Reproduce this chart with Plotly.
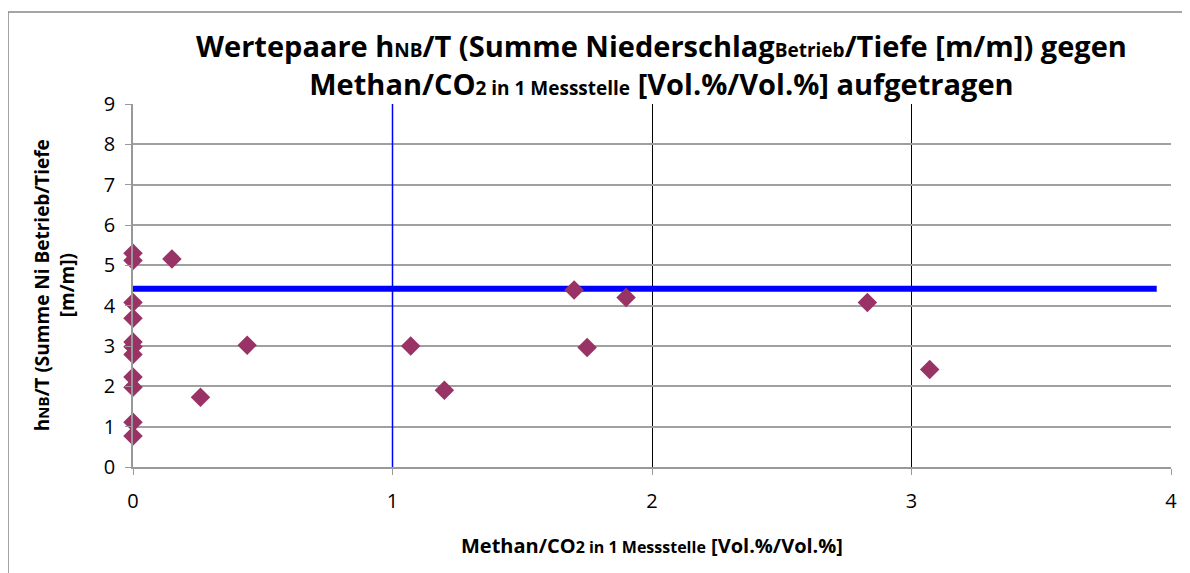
import plotly.graph_objects as go

# Messpunkte: Methan/CO2 (x) gegen hNB/T (y)
methan_co2 = [0, 0, 0, 0, 0, 0, 0, 0, 0, 0, 0,
              0.15, 0.26, 0.44, 1.07, 1.20, 1.70, 1.75, 1.90, 2.83, 3.07]
hnb_t = [5.30, 5.12, 4.08, 3.69, 3.10, 2.98, 2.79, 2.23, 1.98, 1.11, 0.77,
         5.16, 1.73, 3.02, 3.00, 1.90, 4.39, 2.96, 4.20, 4.08, 2.42]

# Grenzlinien
grenz_x_vertikal = [1, 1]
grenz_y_vertikal = [0, 9]
grenz_x_horizontal = [0, 3.945]
grenz_y_horizontal = [4.42, 4.42]

x_ticks = [0, 1, 2, 3, 4]
y_ticks = [0, 1, 2, 3, 4, 5, 6, 7, 8, 9]

FONT = "Open Sans, Noto Sans, sans-serif"

fig = go.Figure()
fig.add_trace(go.Scatter(x=grenz_x_vertikal, y=grenz_y_vertikal, mode="lines",
                         line=dict(color="#0000FF", width=1.5), showlegend=False))
fig.add_trace(go.Scatter(x=grenz_x_horizontal, y=grenz_y_horizontal, mode="lines",
                         line=dict(color="#0000FF", width=6), showlegend=False))
fig.add_trace(go.Scatter(x=methan_co2, y=hnb_t, mode="markers", cliponaxis=False,
                         marker=dict(symbol="diamond", size=15, color="#993366"),
                         showlegend=False))

fig.update_layout(
    width=1182, height=565,
    margin=dict(l=125, r=19, t=96, b=106),
    paper_bgcolor="white", plot_bgcolor="white",
    font=dict(family=FONT, color="black"),
    xaxis=dict(range=[0, 4], tickvals=x_ticks, showgrid=True, gridcolor="black", gridwidth=1.2,
               zeroline=False, showline=True, linecolor="#999999", linewidth=1.5,
               ticks="outside", ticklen=6, tickcolor="#999999", tickfont=dict(size=20),
               ticklabelstandoff=9),
    yaxis=dict(range=[0, 9], tickvals=y_ticks, showgrid=True, gridcolor="#a0a0a0", gridwidth=1.5,
               zeroline=False, showline=True, linecolor="#999999", linewidth=1.5,
               ticks="outside", ticklen=6, tickcolor="#999999", tickfont=dict(size=20),
               ticklabelstandoff=6),
    shapes=[dict(type="rect", xref="paper", yref="paper", x0=-0.1204, y0=-0.4, x1=1.05, y1=1.2534,
                 line=dict(color="#888888", width=1.5))],
    annotations=[
        dict(text="<b>Wertepaare h<span style='font-size:19px'>NB</span>/T (Summe Niederschlag"
                  "<span style='font-size:19px'>Betrieb</span>/Tiefe [m/m]) gegen<br>"
                  "Methan/CO<span style='font-size:19px'>2 in 1 Messstelle</span> [Vol.%/Vol.%] aufgetragen</b>",
             xref="paper", yref="paper", x=0.5096, y=1.11, xanchor="center", yanchor="middle",
             showarrow=False, font=dict(size=29), align="center"),
        dict(text="<b>Methan/CO<span style='font-size:16px'>2 in 1 Messstelle</span> [Vol.%/Vol.%]</b>",
             xref="paper", yref="paper", x=0.5, y=-0.215, xanchor="center", yanchor="middle",
             showarrow=False, font=dict(size=20)),
        dict(text="<b>h<span style='font-size:15px'>NB</span>/T (Summe Ni Betrieb/Tiefe<br>[m/m])</b>",
             xref="paper", yref="paper", x=-0.049, y=0.5, xanchor="right", yanchor="middle",
             showarrow=False, textangle=-90, font=dict(size=19), align="center"),
    ],
)

fig.write_html("out.html")
